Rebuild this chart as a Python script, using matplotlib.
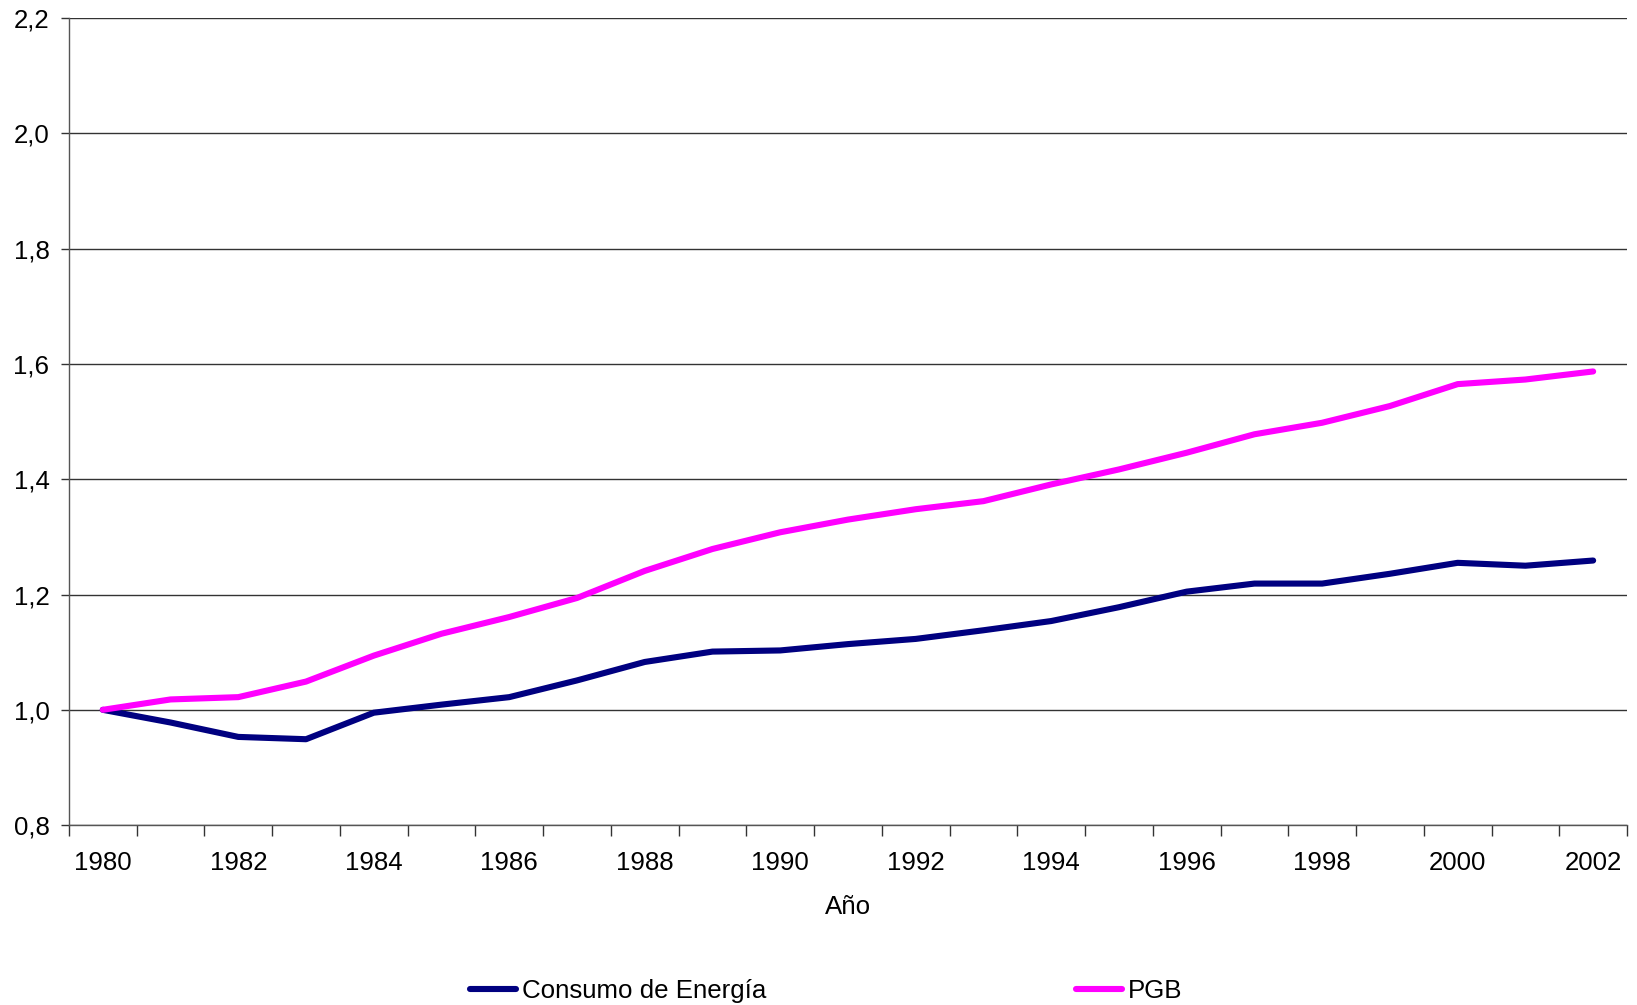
import matplotlib.pyplot as plt

plt.rcParams['font.family'] = ['Liberation Sans', 'DejaVu Sans']

# Índices (1980 = 1,0)
years = list(range(1980, 2003))
consumo = [1.000, 0.978, 0.953, 0.949, 0.995, 1.009, 1.022, 1.051, 1.083, 1.101,
           1.103, 1.114, 1.123, 1.138, 1.154, 1.178, 1.205, 1.219, 1.219, 1.236,
           1.255, 1.250, 1.259]
pgb = [1.000, 1.018, 1.022, 1.049, 1.094, 1.132, 1.161, 1.194, 1.241, 1.279,
       1.308, 1.330, 1.348, 1.362, 1.391, 1.417, 1.446, 1.478, 1.498, 1.527,
       1.565, 1.573, 1.587]
y_ticks = [0.8, 1.0, 1.2, 1.4, 1.6, 1.8, 2.0, 2.2]

fs = 18.6

fig = plt.figure(figsize=(16.37, 10.05), dpi=100)
ax = fig.add_axes([0.0421, 0.179, 0.9518, 0.803])

x = list(range(len(years)))
ax.plot(x, consumo, color='#000080', lw=4.4, solid_capstyle='round',
        solid_joinstyle='round', label='Consumo de Energía')
ax.plot(x, pgb, color='#FF00FF', lw=4.4, solid_capstyle='round',
        solid_joinstyle='round', label='PGB')

ax.set_xlim(-0.5, len(years) - 0.5)
ax.set_ylim(0.8, 2.2)

# marcas entre categorías, etiquetas cada dos años
ax.set_xticks([i - 0.5 for i in range(len(years) + 1)])
ax.set_xticklabels([])
ax.set_xticks(x[::2], minor=True)
ax.set_xticklabels([str(y) for y in years[::2]], minor=True)
ax.tick_params(axis='x', which='major', length=8, width=1, color='#333333', direction='out')
ax.tick_params(axis='x', which='minor', length=0, pad=19, labelsize=fs)

ax.set_yticks(y_ticks)
ax.set_yticklabels([f'{v:.1f}'.replace('.', ',') for v in y_ticks])
ax.tick_params(axis='y', length=6, width=1, color='#333333', pad=8, labelsize=fs)

ax.grid(axis='y', color='#333333', lw=1.0)
ax.set_axisbelow(True)
for s in ['top', 'right']:
    ax.spines[s].set_visible(False)
for s in ['left', 'bottom']:
    ax.spines[s].set_color('#555555')
    ax.spines[s].set_linewidth(1.0)

ax.set_xlabel('Año', fontsize=fs, labelpad=14)

fig.legend(loc='center left', bbox_to_anchor=(457 / 1637, 1 - 991 / 1005),
           ncol=2, frameon=False, fontsize=fs, borderpad=0,
           handlelength=1.8, handletextpad=0.2, columnspacing=12.0)

fig.savefig('out.png', dpi=100, facecolor='white')
